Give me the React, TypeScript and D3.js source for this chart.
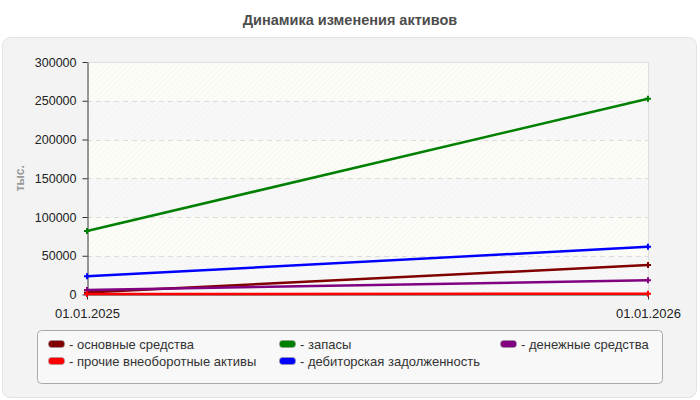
import React, { useEffect, useRef } from 'react';
import * as d3 from 'd3';

// Asset dynamics, thousands of rubles
const dates = ['01.01.2025', '01.01.2026'];
const fixedAssets = [2500, 38000];
const otherNonCurrent = [500, 1000];
const inventories = [82000, 252500];
const receivables = [23500, 61500];
const cash = [5800, 18300];
const yTicks = [0, 50000, 100000, 150000, 200000, 250000, 300000];

const seriesNames = [
  'основные средства',
  'прочие внеоборотные активы',
  'запасы',
  'дебиторская задолженность',
  'денежные средства',
];
const seriesColors = ['#800000', '#ff0000', '#008000', '#0000ff', '#800080'];
const seriesValues = [fixedAssets, otherNonCurrent, inventories, receivables, cash];

const W = 700;
const H = 400;
const FONT = '"Liberation Sans", Arial, sans-serif';

const App = () => {
  const svgRef = useRef<SVGSVGElement>(null);

  useEffect(() => {
    const svg = d3.select(svgRef.current);
    svg.selectAll('*').remove();

    const plot = { left: 87, right: 648, top: 62, bottom: 294.5 };

    const x = d3.scalePoint<string>().domain(dates).range([plot.left, plot.right]);
    const y = d3.scaleLinear().domain([0, 300000]).range([plot.bottom, plot.top]);

    const defs = svg.append('defs');
    const hatch = defs.append('pattern')
      .attr('id', 'hatch')
      .attr('patternUnits', 'userSpaceOnUse')
      .attr('width', 4)
      .attr('height', 4)
      .attr('patternTransform', 'rotate(45)');
    hatch.append('line')
      .attr('x1', 0).attr('y1', 0).attr('x2', 0).attr('y2', 4)
      .attr('stroke', '#ececec')
      .attr('stroke-width', 1);

    // Outer panel
    svg.append('rect')
      .attr('x', 2.5).attr('y', 37.5)
      .attr('width', 694).attr('height', 360)
      .attr('rx', 8)
      .attr('fill', '#f3f3f3')
      .attr('stroke', '#e2e2e2');

    svg.append('text')
      .attr('x', W / 2).attr('y', 25)
      .attr('text-anchor', 'middle')
      .attr('font-family', FONT)
      .attr('font-size', 14.5)
      .attr('font-weight', 'bold')
      .attr('fill', '#4d4d4d')
      .text('Динамика изменения активов');

    // Plot background: alternating bands with hatch
    for (let i = 0; i < yTicks.length - 1; i++) {
      const y0 = y(yTicks[i + 1]);
      const y1 = y(yTicks[i]);
      svg.append('rect')
        .attr('x', plot.left).attr('y', y0)
        .attr('width', plot.right - plot.left).attr('height', y1 - y0)
        .attr('fill', i % 2 === 0 ? '#f8f8f8' : '#fcfdf7');
      svg.append('rect')
        .attr('x', plot.left).attr('y', y0)
        .attr('width', plot.right - plot.left).attr('height', y1 - y0)
        .attr('fill', 'url(#hatch)')
        .attr('opacity', 0.7);
    }

    // Grid
    svg.append('g')
      .selectAll('line')
      .data(yTicks.slice(1, -1))
      .enter()
      .append('line')
      .attr('x1', plot.left).attr('x2', plot.right)
      .attr('y1', d => Math.round(y(d)) + 0.5).attr('y2', d => Math.round(y(d)) + 0.5)
      .attr('stroke', '#dcdcdc')
      .attr('stroke-dasharray', '5,4');

    // Top and right frame
    svg.append('path')
      .attr('d', `M${plot.left},${plot.top + 0.5}H${plot.right + 0.5}V${plot.bottom}`)
      .attr('fill', 'none')
      .attr('stroke', '#dedede');

    // Y axis
    const yAxis = svg.append('g')
      .attr('transform', `translate(${plot.left + 0.5},0)`)
      .call(d3.axisLeft(y).tickValues(yTicks).tickSize(5).tickSizeOuter(0).tickPadding(6).tickFormat(d => String(d)));
    yAxis.select('.domain').attr('stroke', '#333');
    yAxis.selectAll('line').attr('stroke', '#333');
    yAxis.selectAll('text')
      .attr('font-family', FONT)
      .attr('font-size', 12.5)
      .attr('fill', '#222');

    // X axis
    const xAxis = svg.append('g')
      .attr('transform', `translate(0,${plot.bottom})`)
      .call(d3.axisBottom(x).tickSize(5).tickSizeOuter(0).tickPadding(9));
    xAxis.select('.domain').attr('stroke', '#333');
    xAxis.selectAll('line').attr('stroke', '#333');
    xAxis.selectAll('text')
      .attr('font-family', FONT)
      .attr('font-size', 13)
      .attr('fill', '#222');

    svg.append('text')
      .attr('transform', `translate(24,${(plot.top + plot.bottom) / 2}) rotate(-90)`)
      .attr('text-anchor', 'middle')
      .attr('font-family', FONT)
      .attr('font-size', 12)
      .attr('font-weight', 'bold')
      .attr('fill', '#999')
      .text('тыс.');

    // Lines
    const line = d3.line<number>()
      .x((_, i) => x(dates[i]) as number)
      .y(d => y(d));

    const drawOrder = [2, 3, 0, 4, 1];
    drawOrder.forEach(s => {
      const vals = seriesValues[s];
      svg.append('path')
        .datum(vals)
        .attr('d', line)
        .attr('fill', 'none')
        .attr('stroke', seriesColors[s])
        .attr('stroke-width', 2.5);
      svg.append('g')
        .selectAll('path')
        .data(vals)
        .enter()
        .append('path')
        .attr('transform', (d, i) => `translate(${x(dates[i])},${y(d)})`)
        .attr('d', d3.symbol(d3.symbolCross, 20))
        .attr('fill', seriesColors[s]);
    });

    // Legend
    const legend = svg.append('g');
    legend.append('rect')
      .attr('x', 37.5).attr('y', 330.5)
      .attr('width', 625).attr('height', 53)
      .attr('rx', 4)
      .attr('fill', '#f8f8f8')
      .attr('stroke', '#aaaaaa');

    const colX = [48, 279, 500];
    const rowY = [344, 361];
    const slots = [[0, 0], [0, 1], [1, 0], [1, 1], [2, 0]];
    seriesNames.forEach((name, i) => {
      const [c, r] = slots[i];
      const g = legend.append('g').attr('transform', `translate(${colX[c]},${rowY[r]})`);
      g.append('rect')
        .attr('x', 0.5).attr('y', -3.5)
        .attr('width', 16).attr('height', 7)
        .attr('rx', 3)
        .attr('fill', seriesColors[i])
        .attr('stroke', '#999')
        .attr('stroke-width', 0.6);
      g.append('text')
        .attr('x', 21).attr('y', 4.5)
        .attr('font-family', FONT)
        .attr('font-size', 13)
        .attr('fill', '#333')
        .text(`- ${name}`);
    });
  }, []);

  return (
    <div style={{ position: 'absolute', left: 0, top: 0, background: '#fff' }}>
      <svg ref={svgRef} width={W} height={H} style={{ display: 'block' }} />
    </div>
  );
};

export default App;
